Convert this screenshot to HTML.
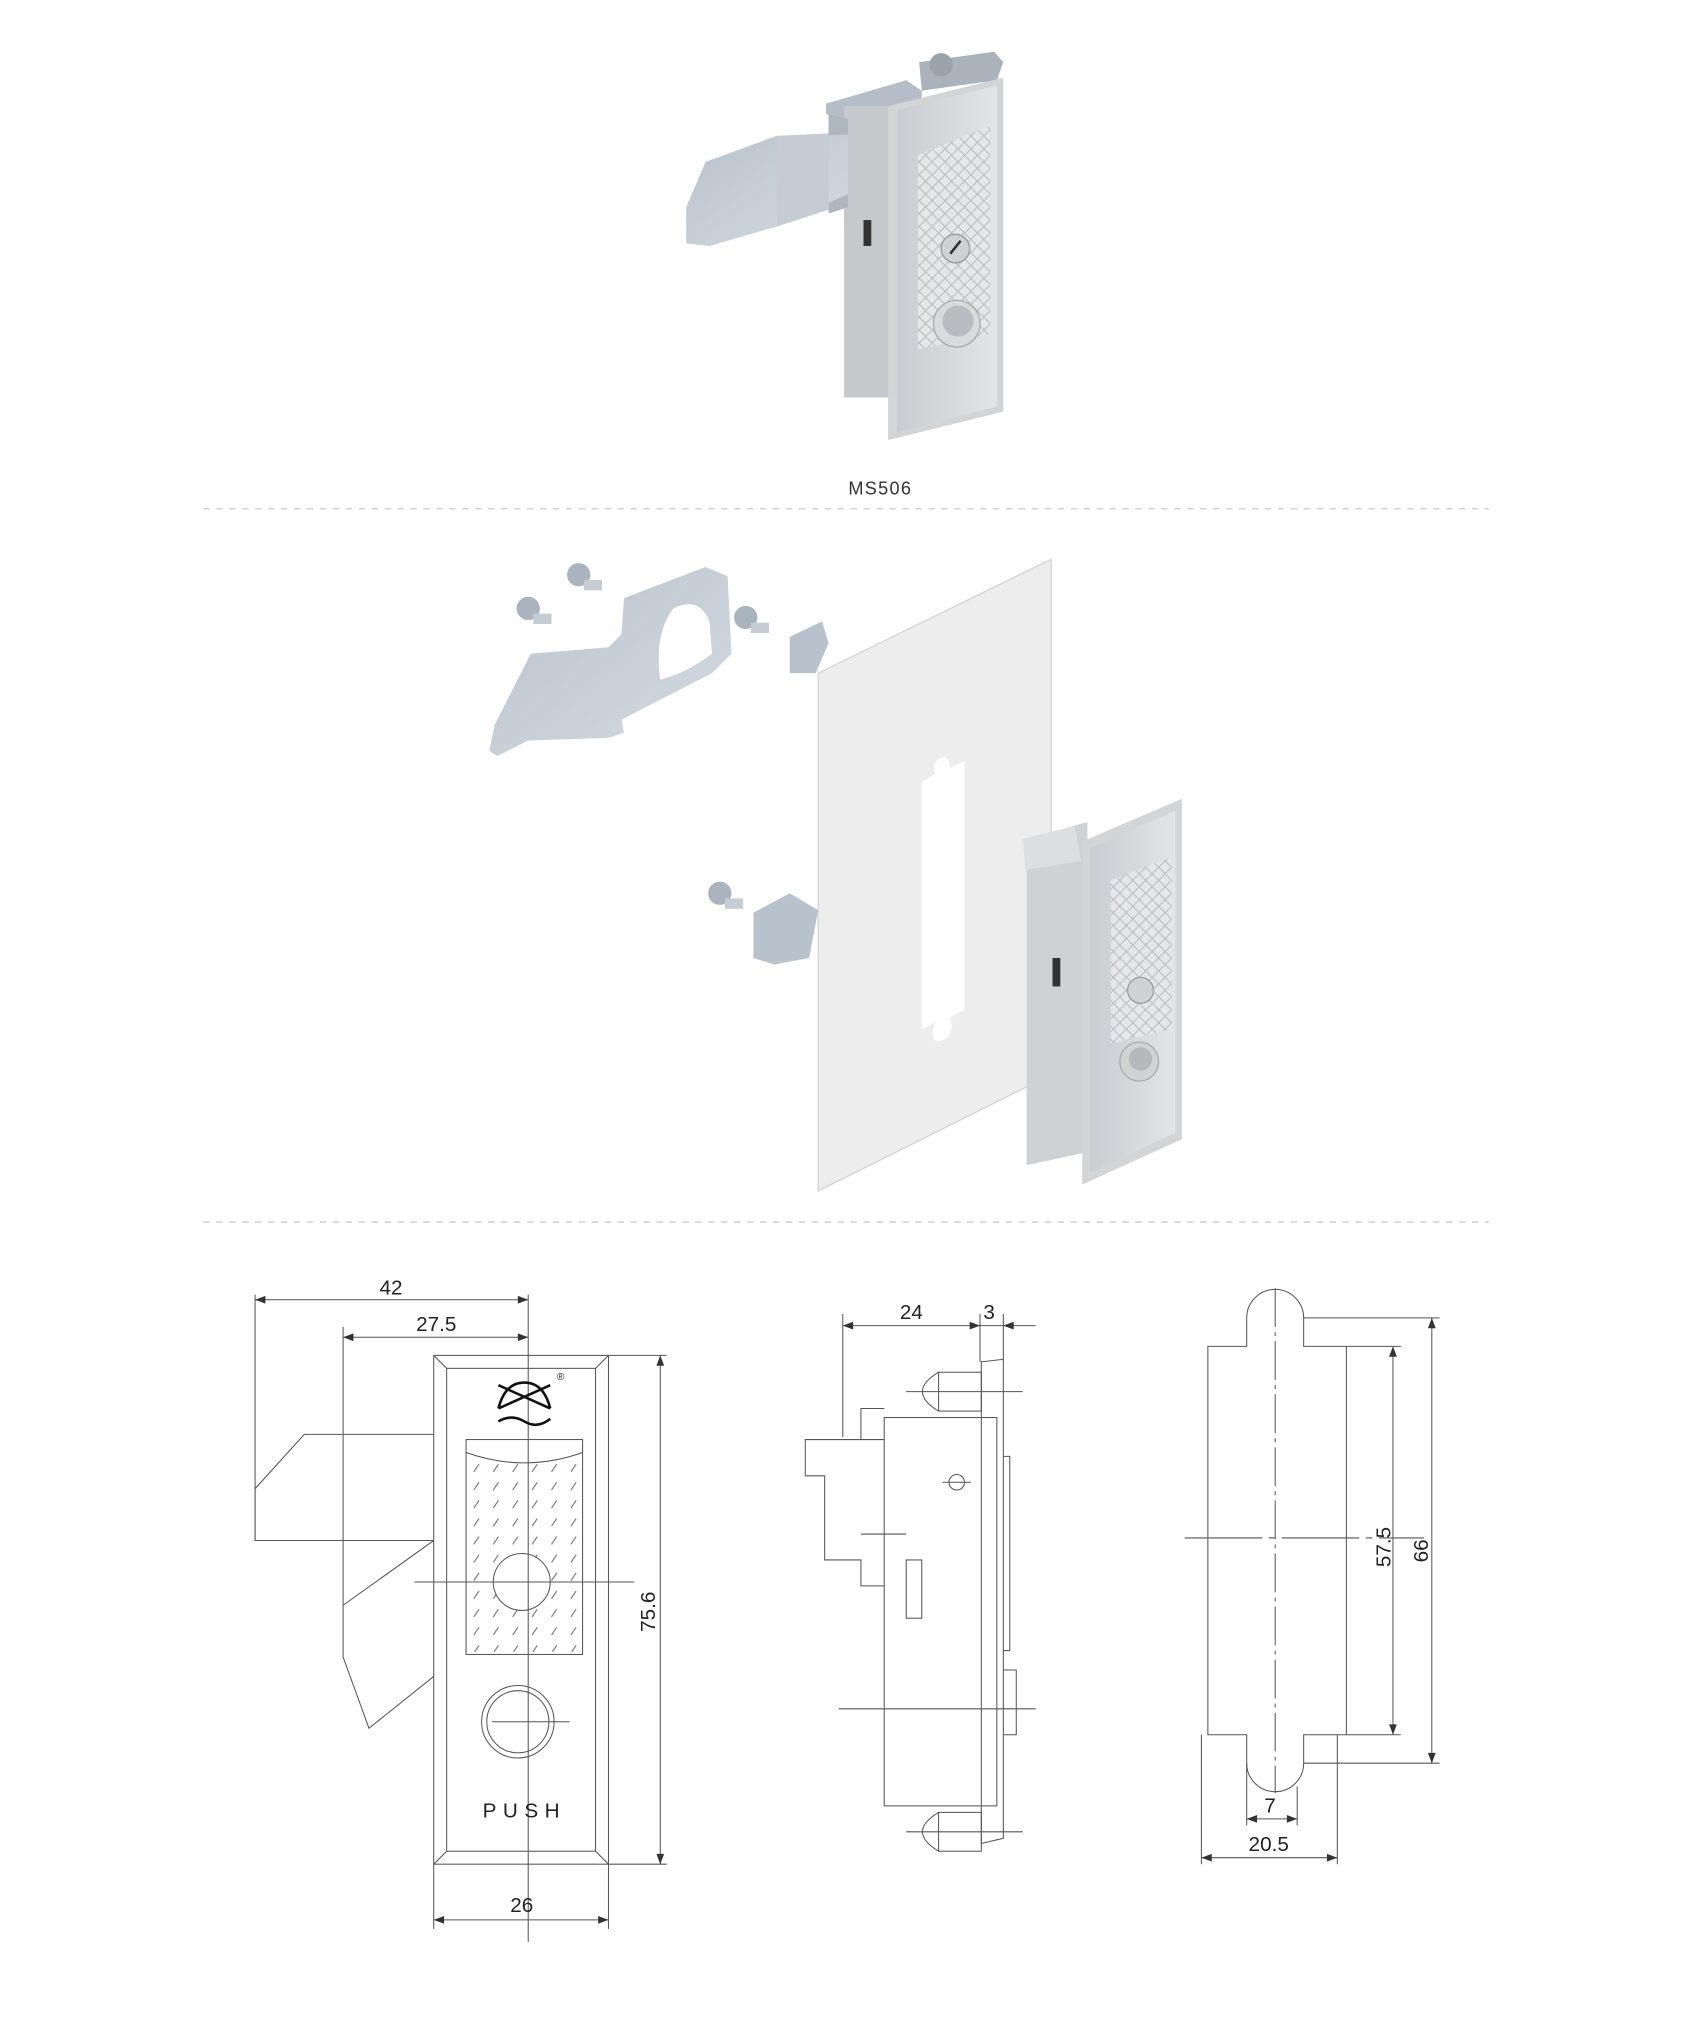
<!DOCTYPE html>
<html><head><meta charset="utf-8"><style>
html,body{margin:0;padding:0;background:#fff;}
svg{display:block;}
text{font-family:"Liberation Sans",sans-serif;}
</style></head><body>
<svg width="1683" height="2019" viewBox="0 0 1300 1559.6" xmlns="http://www.w3.org/2000/svg">
<defs>
<linearGradient id="met" x1="0" y1="0" x2="1" y2="0"><stop offset="0" stop-color="#c9ccd0"/><stop offset="1" stop-color="#e2e4e6"/></linearGradient>
<linearGradient id="zinc" x1="0" y1="0" x2="1" y2="1"><stop offset="0" stop-color="#b8c2cc"/><stop offset="1" stop-color="#d5dbe1"/></linearGradient>
<pattern id="tex" width="10" height="10" patternUnits="userSpaceOnUse"><rect width="10" height="10" fill="#e4e6e8"/><path d="M0 5 L5 0 L10 5 L5 10Z" fill="none" stroke="#b9bcc0" stroke-width="0.8"/></pattern>
<pattern id="dash" x="362" y="1128" width="15" height="14" patternUnits="userSpaceOnUse"><path d="M4 9 L8 3" stroke="#666" stroke-width="0.8"/></pattern>
</defs>
<rect width="1300" height="1559.6" fill="#fff"/>

<!-- TOP LOCK -->
<g>
<polygon points="710,48 768,40 775,48 770,62 712,70" fill="#aab3bc"/>
<circle cx="727" cy="50" r="9" fill="#9aa3ac"/>
<polygon points="638,80 700,62 712,70 712,86 655,95 638,88" fill="#b5bec8"/>
<rect x="652" y="82" width="38" height="225" fill="#c6c8cb"/>
<polygon points="640,88 655,92 655,160 640,165" fill="#aeb6bf"/>
<polygon points="530,160 545,125 600,105 655,104 655,150 600,175 548,190 530,188" fill="url(#zinc)"/>
<polygon points="600,105 640,103 640,162 600,175" fill="#c5ccd3"/>
<rect x="667" y="170" width="6" height="20" fill="#333"/>
<polygon points="686,82 775,60 775,318 686,340" fill="#d2d4d6"/>
<polygon points="693,85 770,66 770,314 693,334" fill="url(#met)"/>
<polygon points="709,120 765,97 765,258 709,270" fill="url(#tex)"/>
<circle cx="738" cy="192" r="11" fill="#cfd2d5" stroke="#999" stroke-width="1"/>
<path d="M734 196 L742 186" stroke="#333" stroke-width="2"/>
<circle cx="739" cy="250" r="18" fill="#d8dadc" stroke="#aaa"/>
<circle cx="740" cy="248" r="12" fill="#b8bcc0"/>
</g>
<text x="680" y="382" font-size="14" letter-spacing="1" fill="#333" text-anchor="middle">MS506</text>
<line x1="157" y1="393" x2="1150" y2="393" stroke="#ccc" stroke-dasharray="5,5"/>

<!-- EXPLODED -->
<polygon points="632,520 812,432 812,830 632,920" fill="#ededee" stroke="#d4d4d6"/>
<path d="M712,604 L722,598 Q720,588 727,585 Q733,583 734,593 L745,588 L745,780 L734,786 Q738,800 727,804 Q717,806 722,790 L712,795Z" fill="#fff"/>
<polygon points="378,580 382,560 410,505 470,500 480,490 482,462 545,438 562,445 565,505 550,520 480,556 482,566 470,570 408,572 384,584" fill="url(#zinc)"/>
<path d="M520 470 Q540 460 548 480 L550 505 Q530 520 510 525 Q505 490 520 470Z" fill="#fff"/>
<g fill="#a9b4bf"><circle cx="408" cy="470" r="9"/><circle cx="447" cy="444" r="9"/><circle cx="576" cy="477" r="9"/><circle cx="556" cy="690" r="9"/></g>
<g fill="#c4ccd4"><rect x="412" y="474" width="14" height="8"/><rect x="451" y="448" width="14" height="8"/><rect x="580" y="481" width="14" height="8"/><rect x="560" y="694" width="14" height="8"/></g>
<polygon points="610,492 635,480 640,497 630,520 610,520" fill="#b8c2cc"/>
<polygon points="582,705 610,690 632,703 625,740 598,745 582,740" fill="#b8c2cc"/>
<polygon points="793,648 840,635 840,890 793,900" fill="#cfd1d3"/>
<polygon points="790,648 830,638 835,665 792,672" fill="#dcdee0"/>
<rect x="813" y="740" width="6" height="22" fill="#333"/>
<polygon points="836,650 913,617 913,880 836,915" fill="#d2d4d6"/>
<polygon points="842,655 908,626 908,875 842,906" fill="url(#met)"/>
<polygon points="858,680 905,662 905,795 858,806" fill="url(#tex)"/>
<circle cx="881" cy="765" r="10" fill="#cfd2d5" stroke="#999"/>
<circle cx="880" cy="820" r="15" fill="#d0d2d4" stroke="#aaa"/>
<circle cx="881" cy="818" r="9" fill="#b5b9bd"/>
<line x1="157" y1="944" x2="1150" y2="944" stroke="#ccc" stroke-dasharray="5,5"/>

<rect x="362" y="1128" width="86" height="148" fill="url(#dash)"/>
<g stroke="#555" stroke-width="0.8" fill="none">
<!-- FRONT VIEW -->
<rect x="335" y="1047" width="135" height="393"/>
<rect x="345" y="1057" width="115" height="373"/>
<path d="M335 1047 L345 1057 M470 1047 L460 1057 M335 1440 L345 1430 M470 1440 L460 1430"/>
<rect x="360" y="1112" width="90" height="166"/>
<path d="M360 1122 Q405 1138 450 1122"/>
<circle cx="403" cy="1222" r="22" fill="#fff"/>
<circle cx="400" cy="1330" r="28"/><circle cx="400" cy="1330" r="24"/>
<path d="M335 1108 L235 1108 L197 1150 L197 1190 L335 1190"/>
<path d="M335 1190 L265 1240 L265 1280 L285 1335 L335 1295"/>
<path d="M408 1000 V1500 M197 1000 V1190 M265 1025 V1240 M470 1047 H515 M470 1440 H515 M335 1440 V1490 M470 1440 V1490 M320 1222 H490 M380 1330 H440"/>
<path d="M197 1004 H408 M265 1033 H408 M510 1047 V1440 M335 1483 H470"/>
<!-- SIDE VIEW -->
<rect x="683" y="1095" width="87" height="300"/>
<path d="M758 1052 L775 1050 L775 1420 L758 1424Z"/>
<path d="M683 1112 L665 1112 L665 1088 L683 1088 M665 1112 L622 1112 L622 1140 L637 1140 L637 1205 L665 1205 L665 1225 L683 1225"/>
<rect x="700" y="1205" width="12" height="45"/>
<path d="M775 1290 L785 1290 L785 1340 L775 1340 M775 1125 L780 1125 L780 1275 L775 1275"/>
<circle cx="739" cy="1145" r="6"/>
<rect x="725" y="1060" width="33" height="30"/><path d="M725 1060 Q700 1075 725 1090"/>
<rect x="725" y="1400" width="33" height="30"/><path d="M725 1400 Q700 1415 725 1430"/>
<path d="M651 1015 V1110 M757 1015 V1052 M775 1015 V1050 M651 1024 H775 M775 1024 H800 M700 1075 H790 M700 1415 H790 M648 1320 H800 M665 1185 H700 M728 1145 H750"/>
<!-- RIGHT VIEW -->
<path d="M933 1040 H963 V1018 A22 22 0 0 1 1007 1018 V1040 H1040 V1340 H1007 V1362 A22 22 0 0 1 963 1362 V1340 H933Z"/>
<path d="M985 995 V1385" stroke-dasharray="30,4,3,4"/>
<path d="M915 1188 H1100" stroke-dasharray="60,5,5,5"/>
<path d="M1007 1018 H1112 M1040 1040 H1082 M1040 1340 H1082 M1007 1362 H1112 M1076 1040 V1340 M1106 1018 V1362"/>
<path d="M963 1362 V1410 M1002 1380 V1410 M928 1340 V1440 M1033 1340 V1440 M963 1405 H1002 M928 1435 H1033"/>
</g>
<g fill="#333">
<polygon points="197,1004 205,1001 205,1007"/><polygon points="408,1004 400,1001 400,1007"/>
<polygon points="265,1033 273,1030 273,1036"/><polygon points="408,1033 400,1030 400,1036"/>
<polygon points="510,1047 507,1055 513,1055"/><polygon points="510,1440 507,1432 513,1432"/>
<polygon points="335,1483 343,1480 343,1486"/><polygon points="470,1483 462,1480 462,1486"/>
<polygon points="651,1024 659,1021 659,1027"/><polygon points="757,1024 749,1021 749,1027"/><polygon points="775,1024 783,1021 783,1027"/>
<polygon points="1076,1040 1073,1048 1079,1048"/><polygon points="1076,1340 1073,1332 1079,1332"/>
<polygon points="1106,1018 1103,1026 1109,1026"/><polygon points="1106,1362 1103,1354 1109,1354"/>
<polygon points="963,1405 971,1402 971,1408"/><polygon points="1002,1405 994,1402 994,1408"/>
<polygon points="928,1435 936,1432 936,1438"/><polygon points="1033,1435 1025,1432 1025,1438"/>
</g>
<g font-size="16" fill="#222" text-anchor="middle">
<text x="302" y="1000">42</text>
<text x="337" y="1028">27.5</text>
<text x="403" y="1477">26</text>
<text x="704" y="1019">24</text>
<text x="764" y="1019">3</text>
<text x="981" y="1400">7</text>
<text x="980" y="1430">20.5</text>
<text transform="translate(506,1245) rotate(-90)">75.6</text>
<text transform="translate(1074,1195) rotate(-90)">57.5</text>
<text transform="translate(1103,1198) rotate(-90)">66</text>
<text x="405" y="1404" letter-spacing="5" font-size="16">PUSH</text>
</g>
<g stroke="#111" stroke-width="2" fill="none">
<path d="M385 1088 Q390 1068 405 1068 Q420 1068 425 1088 M385 1070 L425 1088 M425 1070 L385 1088 M385 1098 Q395 1092 405 1098 Q415 1104 425 1096"/>
</g>
<text x="430" y="1066" font-size="8" fill="#222">®</text>
</svg>
</body></html>
